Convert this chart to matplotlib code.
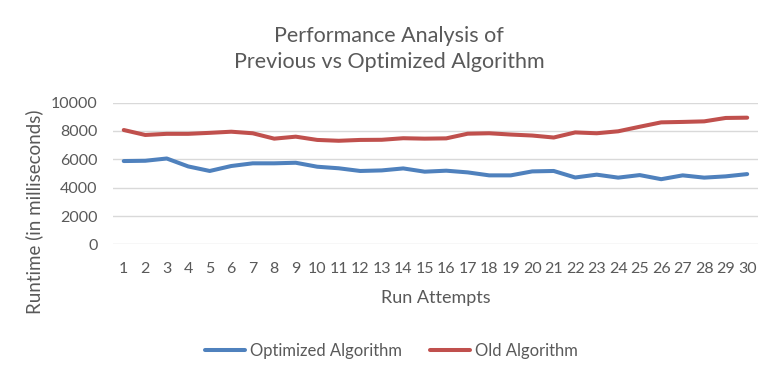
import matplotlib.pyplot as plt

runs = list(range(1, 31))
optimized = [5880, 5900, 6060, 5500, 5180, 5530, 5720, 5720, 5760, 5480,
             5370, 5180, 5220, 5360, 5130, 5200, 5080, 4870, 4870, 5150,
             5180, 4720, 4920, 4710, 4890, 4600, 4870, 4710, 4800, 4960]
old = [8070, 7720, 7800, 7800, 7870, 7950, 7840, 7460, 7600, 7370,
       7310, 7370, 7380, 7490, 7460, 7480, 7810, 7840, 7750, 7680,
       7540, 7900, 7840, 7980, 8300, 8610, 8640, 8680, 8920, 8940]
yticks = [0, 2000, 4000, 6000, 8000, 10000]

plt.rcParams['font.family'] = ['Lato', 'DejaVu Sans']
gray = '#595959'

fig = plt.figure(figsize=(7.83, 3.76), dpi=100)
ax = fig.add_axes([0.1443, 0.350, 0.8237, 0.377])

ax.plot(runs, optimized, color='#4F81BD', lw=2.9, label='Optimized Algorithm',
        solid_capstyle='round')
ax.plot(runs, old, color='#C0504D', lw=2.9, label='Old Algorithm',
        solid_capstyle='round')

ax.set_xlim(0.5, 30.5)
ax.set_ylim(0, 10000)
ax.set_xticks(runs)
ax.set_yticks(yticks)
ax.tick_params(length=0, labelsize=11.5, colors=gray)
ax.tick_params(axis='x', pad=13)
ax.tick_params(axis='y', pad=11)
ax.grid(axis='y', color='#D9D9D9', lw=1)
ax.set_axisbelow(True)
for s in ax.spines.values():
    s.set_visible(False)

ax.set_xlabel('Run Attempts', fontsize=13, color=gray, labelpad=10)
ax.set_ylabel('Runtime (in milliseconds)', fontsize=13.5, color=gray)
ax.yaxis.set_label_coords(-0.108, 0.232)

fig.text(0.497, 0.869, 'Performance Analysis of\nPrevious vs Optimized Algorithm',
         ha='center', va='center', fontsize=15.5, color=gray, linespacing=1.35)

ax.legend(loc='center', bbox_to_anchor=(0.5, 0.067), bbox_transform=fig.transFigure,
          ncol=2, frameon=False, fontsize=12, labelcolor=gray, handlelength=2.4,
          handletextpad=0.3, columnspacing=1.7)

fig.savefig('out.png', dpi=100)
